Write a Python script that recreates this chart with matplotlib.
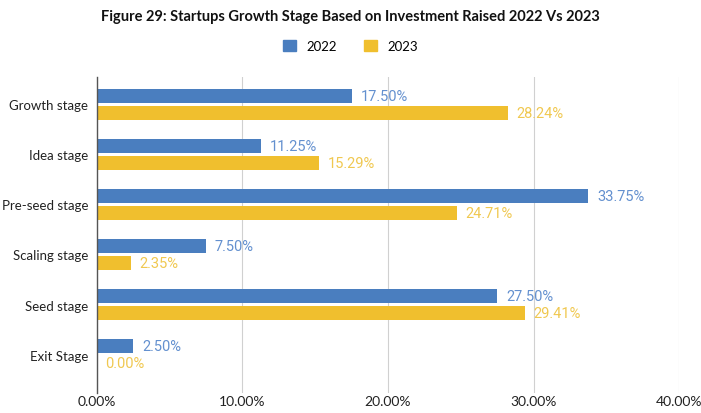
import numpy as np
import matplotlib as mpl
import matplotlib.pyplot as plt
from matplotlib.patches import Patch

mpl.use('Agg')

stages = ["Growth stage", "Idea stage", "Pre-seed stage", "Scaling stage", "Seed stage", "Exit Stage"]
vals_2022 = [17.50, 11.25, 33.75, 7.50, 27.50, 2.50]
vals_2023 = [28.24, 15.29, 24.71, 2.35, 29.41, 0.00]
xticks = [0, 10, 20, 30, 40]

blue = "#4a7ebf"
yellow = "#f0bf2e"
blue_txt = "#6390cf"
yellow_txt = "#f0c850"

fig = plt.figure(figsize=(7.01, 4.14), dpi=100)
ax = fig.add_axes([0.138, 0.048, 0.831, 0.764])

y = np.arange(len(stages))
h = 0.28
off = 0.17
ax.barh(y - off, vals_2022, height=h, color=blue, zorder=3)
ax.barh(y + off, vals_2023, height=h, color=yellow, zorder=3)

for yi, v in zip(y, vals_2022):
    ax.text(v + 0.6, yi - off, "%.2f%%" % v, color=blue_txt, fontsize=10.5,
            family="Roboto", va="center", ha="left", zorder=4)
for yi, v in zip(y, vals_2023):
    ax.text(v + 0.6, yi + off, "%.2f%%" % v, color=yellow_txt, fontsize=10.5,
            family="Roboto", va="center", ha="left", zorder=4)

ax.set_xlim(0, 40)
ax.set_ylim(5.77, -0.55)
ax.set_xticks(xticks)
ax.set_xticklabels(["%.2f%%" % t for t in xticks], family="Lato", fontsize=10, color="#222222")
ax.set_yticks(y)
ax.set_yticklabels(stages, family="Lato", fontsize=9.5, color="#222222")
ax.tick_params(axis="y", length=0, pad=6)
ax.tick_params(axis="x", length=0, pad=1.5)
ax.xaxis.grid(True, color="#d0d0d0", lw=0.8, zorder=0)
for s in ["top", "right", "bottom"]:
    ax.spines[s].set_visible(False)
ax.spines["left"].set_color("#555555")
ax.spines["left"].set_linewidth(1.0)
ax.spines["left"].set_zorder(5)

fig.text(0.5, 0.958, "Figure 29: Startups Growth Stage Based on Investment Raised 2022 Vs 2023",
         ha="center", va="center", family="Lato", fontweight="bold", fontsize=10.5, color="#111111")

handles = [Patch(color=blue, label="2022"), Patch(color=yellow, label="2023")]
fig.legend(handles=handles, loc="center", bbox_to_anchor=(0.5, 0.887), ncol=2, frameon=False,
           prop={"family": "Lato", "size": 9.5}, handlelength=1.0, handleheight=1.0,
           columnspacing=2.0, handletextpad=0.8)

fig.savefig("out.png", dpi=100)
